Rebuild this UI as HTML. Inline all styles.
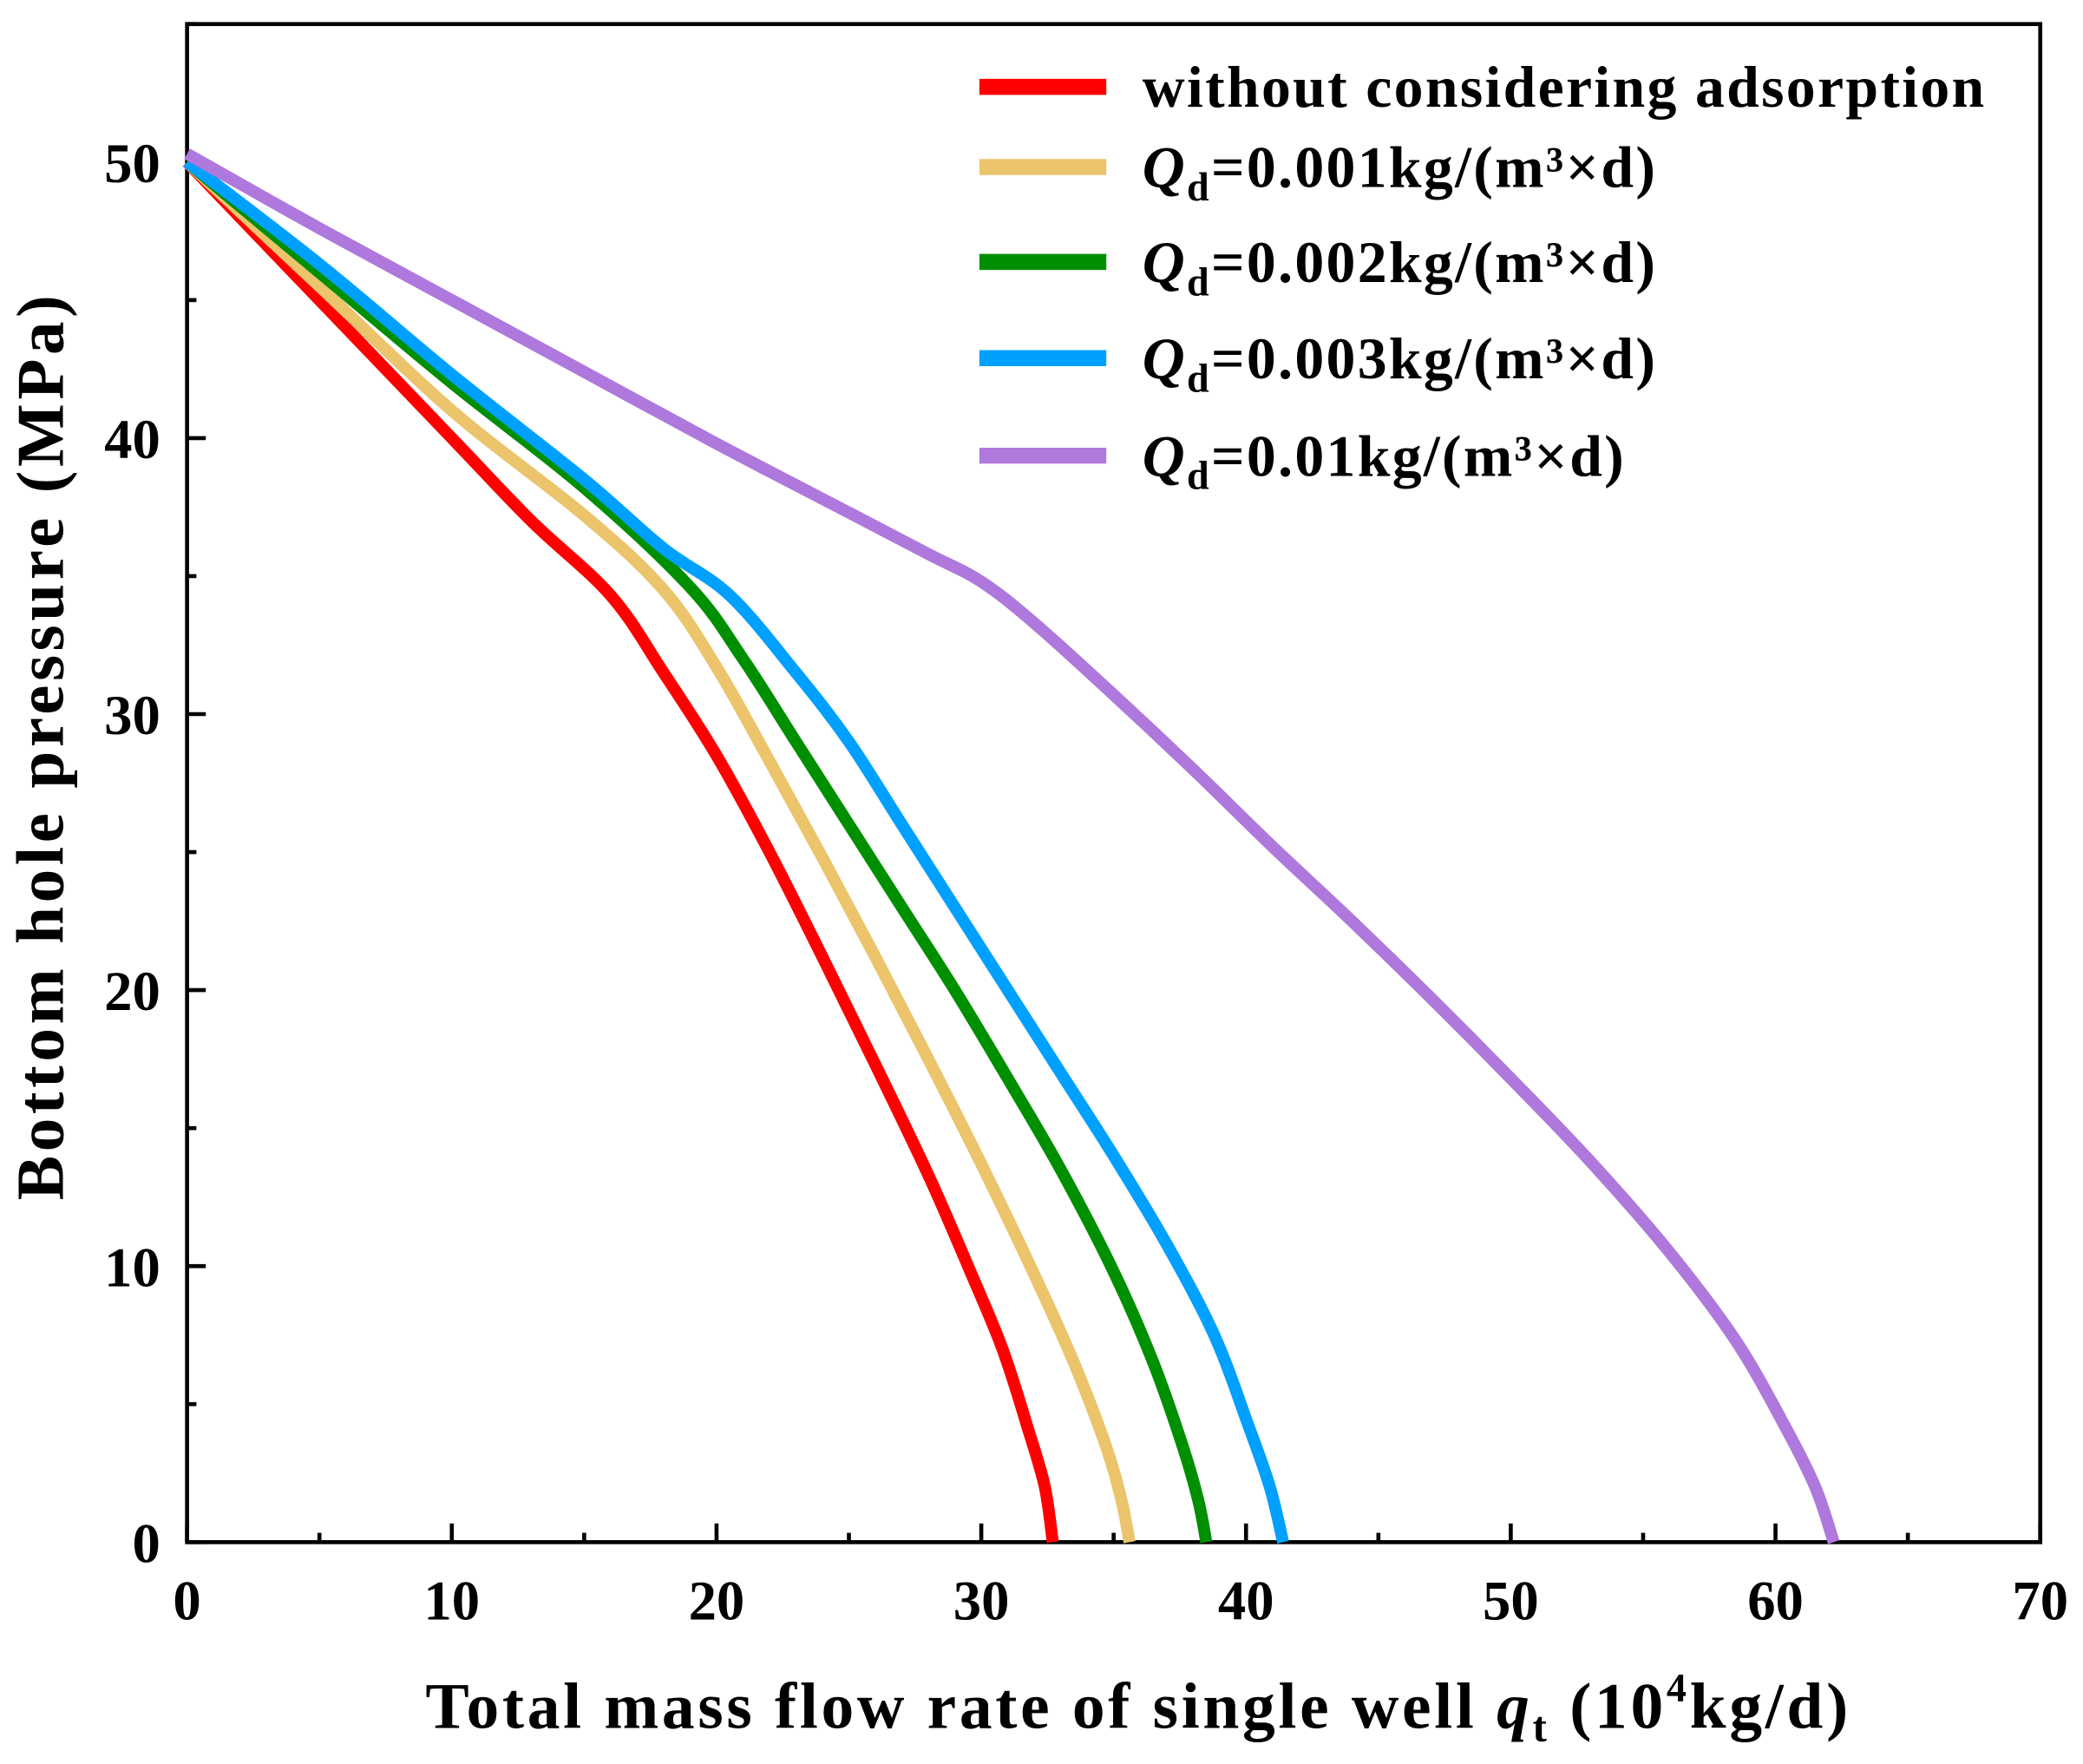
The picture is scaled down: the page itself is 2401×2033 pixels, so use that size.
<!DOCTYPE html>
<html><head><meta charset="utf-8"><style>
html,body{margin:0;padding:0;background:#fff;}
svg{display:block;}
text{font-family:"Liberation Serif",serif;font-weight:bold;fill:#000;}
</style></head><body>
<svg id="chart" width="2401" height="2033" viewBox="0 0 1559 1320" preserveAspectRatio="none" xmlns="http://www.w3.org/2000/svg">
<g id="grid"></g>
<g id="series"></g>
<g id="legend"></g>
<text x="852" y="1293" text-anchor="middle" font-size="49" letter-spacing="2.4">Total mass flow rate of single well <tspan font-style="italic">q</tspan><tspan font-size="32" dy="10">t</tspan><tspan dy="-10">  (10</tspan><tspan font-size="30" dy="-20">4</tspan><tspan dy="20">kg/d)</tspan></text>
<text transform="translate(47,558) rotate(-90)" text-anchor="middle" font-size="50" letter-spacing="3">Bottom hole pressure (MPa)</text>
</svg>
<script>
const xTicks=[0,10,20,30,40,50,60,70];
const yTicks=[0,10,20,30,40,50];
const seriesNames=["without considering adsorption","0.001","0.002","0.003","0.01"];
const seriesColors=["#ff0000","#ebc46b","#008f00","#00a0ff","#af78dc"];
const redX=[0,5,10,13,16,18,20,22,24,26,28,29.5,30.8,31.8,32.4,32.7];
const redY=[50,45,40,37,34.3,31.5,28.5,25,21.2,17.3,13.3,10,7,4,2,0];
const yelX=[0,5,10,15,18,20,22,24,26,28,30,32,33.5,34.7,35.3,35.6];
const yelY=[50,45.5,41,37.2,34.5,31.7,28.3,24.8,21.2,17.5,13.7,9.7,6.5,3.5,1.5,0];
const grnX=[0,5,10,15,19,21,23,25,27,29,31,33,35,36.5,37.6,38.2,38.5];
const grnY=[50,46,42,38.2,34.6,32,29,26,23,20,16.8,13.5,9.8,6.5,3.5,1.5,0];
const bluX=[0,5,10,15,18,20.5,23,25,27,29,31,33,35,37,38.8,40.1,40.9,41.4];
const bluY=[50,46.3,42.3,38.5,36,34.3,31.5,29,26,23,20,17,14,10.8,7.5,4.2,2,0];
const purX=[0,5,10,15,20,25,28,30,32,35,38,41,44,47,50,53,56,58.5,60.3,61.5,62.2];
const purY=[50.3,47.6,45,42.4,39.8,37.3,35.8,34.8,33.3,30.7,28,25.2,22.5,19.7,16.8,13.8,10.5,7.3,4.3,2,0];
const allX=[redX,yelX,grnX,bluX,purX], allY=[redY,yelY,grnY,bluY,purY];
const L=140,R=1527,T=18,B=1154,XMAX=70,YMAX=55;
const sx=v=>L+v/XMAX*(R-L), sy=v=>B-v/YMAX*(B-T);
const NS="http://www.w3.org/2000/svg";
function mk(tag,attrs,parent){const e=document.createElementNS(NS,tag);for(const k in attrs)e.setAttribute(k,attrs[k]);parent.appendChild(e);return e;}
const g=document.getElementById('grid');
for(let v=0;v<=XMAX;v+=5){const major=v%10===0;const t=mk('line',{x1:sx(v),x2:sx(v),y1:B,y2:B-(major?14:7),stroke:'#000','stroke-width':3},g);

}
for(let v=0;v<=YMAX;v+=5){const major=v%10===0;const t=mk('line',{x1:L,x2:L+(major?14:7),y1:sy(v),y2:sy(v),stroke:'#000','stroke-width':3},g);

}
xTicks.forEach(v=>{const t=mk('text',{x:sx(v),y:1212,'text-anchor':'middle','font-size':42},g);t.textContent=v;

});
yTicks.forEach(v=>{const t=mk('text',{x:120,y:sy(v)+15,'text-anchor':'end','font-size':42},g);t.textContent=v;

});
const sg=document.getElementById('series');
function smooth(xs,ys){const p=xs.map((x,i)=>[sx(x),sy(ys[i])]);let d=`M${p[0][0]},${p[0][1]}`;
for(let i=0;i<p.length-1;i++){const p0=p[Math.max(0,i-1)],p1=p[i],p2=p[i+1],p3=p[Math.min(p.length-1,i+2)];
d+=` C${p1[0]+(p2[0]-p0[0])/6},${p1[1]+(p2[1]-p0[1])/6} ${p2[0]-(p3[0]-p1[0])/6},${p2[1]-(p3[1]-p1[1])/6} ${p2[0]},${p2[1]}`;}return d;}
allX.forEach((xs,i)=>{const p=mk('path',{d:smooth(xs,allY[i]),fill:'none',stroke:seriesColors[i],'stroke-width':9,'stroke-linejoin':'round'},sg);

});
const f=mk('rect',{x:L,y:T,width:R-L,height:B-T,fill:'none',stroke:'#000','stroke-width':3},g);


const lg=document.getElementById('legend');
const ly=[65,125,196,268,341];
seriesNames.forEach((n,i)=>{
const ln=mk('line',{x1:733,x2:828,y1:ly[i],y2:ly[i],stroke:seriesColors[i],'stroke-width':12},lg);


const t=mk('text',{x:855,y:ly[i]+15,'font-size':44,'letter-spacing':1.5},lg);


if(i===0){t.textContent=n;}else{
t.innerHTML=`<tspan font-style="italic">Q</tspan><tspan font-size="30" dy="10">d</tspan><tspan dy="-10">=${n}kg/(m³×d)</tspan>`;}
});
</script>
</body></html>
